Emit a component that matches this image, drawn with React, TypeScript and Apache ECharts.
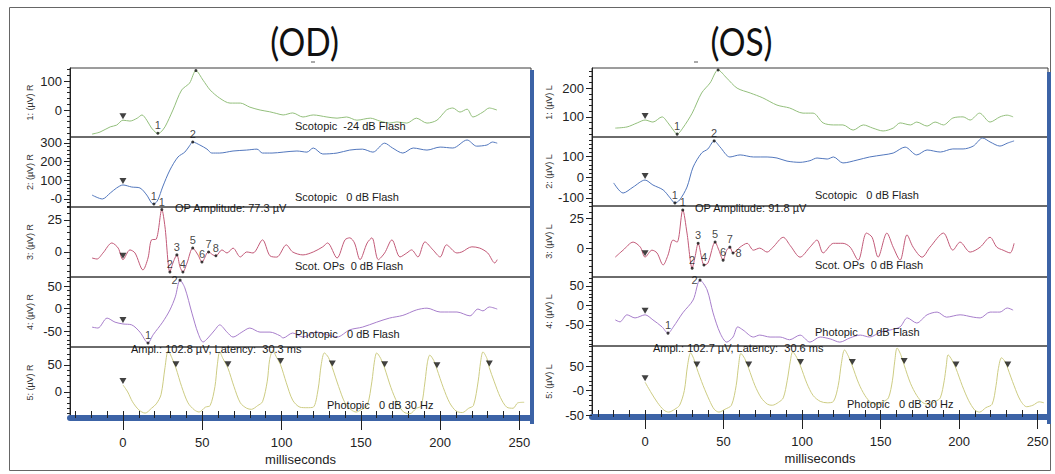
import React, { useEffect, useRef } from 'react';
import * as echarts from 'echarts';

// ---------- data (ms, µV) ----------
const odScotDim: number[][] = [[-19.5,-83],[-14.5,-76],[-8,-58],[-4,-52],[0,-35],[4.4,-38],[9,-28],[12,-17],[15,-35],[18,-62],[21,-79],[22,-80],[23.5,-78],[26.5,-58],[31.5,0],[37,69],[42,93],[46,136],[50.5,103],[55,69],[61,41],[67.5,24],[74,24],[80,10],[86.5,0],[92.5,-6],[97,-12],[101,-17],[107,-10],[113.5,-24],[120,-17],[128.6,-24],[135,-28],[141,-24],[147.5,-35],[156,-28],[162,-38],[168,-45],[172.7,-41],[179,-45],[185,-28],[191.7,-45],[198,-35],[204,0],[208,7],[212.5,-7],[217,3],[220.7,-24],[227,-7],[231,7],[235.8,0]];
const odScotBright: number[][] = [[-19.5,21],[-13,0],[-8,32],[-4,59],[0,75],[5.5,64],[10.7,59],[15,21],[18,-21],[19.5,-27],[22,-5],[25,64],[29.6,155],[34.7,225],[39,251],[42,285],[44,305],[48.5,289],[53,267],[56,246],[61,246],[69.4,257],[78,262],[84.5,267],[88,246],[94,246],[101,251],[109.7,257],[116,251],[120,273],[126,241],[135,246],[143,262],[151,267],[157.6,251],[165,299],[170,273],[176.5,246],[183,273],[191.7,262],[200,278],[208,273],[217,316],[223,283],[229.5,289],[233,305],[236,299]];
const odOPs: number[][] = [[-19.5,-4.7],[-16.4,-5.5],[-12.6,-0.8],[-7,7],[-3,3],[0,-6],[4.4,1.6],[7.6,-0.8],[12.6,-14],[15.8,-4.7],[18,9.4],[21,10],[24.5,33],[26.5,19.5],[29.6,-15.6],[31.5,-8.6],[34,-2.3],[36,-11.7],[37.8,-15.6],[40.4,-8.6],[44,3],[47.3,-2.3],[49.8,-7.8],[53,-0.8],[54,0],[56.7,-2.3],[58.6,-3],[62.4,1.6],[65.6,-0.8],[69.4,3],[74,-3.9],[78,0],[82,-0.8],[88,9.4],[92.7,-3],[97,-4],[103,5.5],[107,0],[113.5,-2.3],[120,0],[126,4],[129,7],[135,-4.7],[140,9.4],[143,11],[146,7],[149.5,-6],[154,7],[157,11],[161,-6],[165,-0.8],[169.6,9.4],[174.7,-3.9],[179,-0.8],[182,1.6],[186,-3.9],[190.4,7.8],[195.5,1.6],[200,-3.9],[204,5.5],[210.6,-0.8],[213.7,0],[220,4],[225,3],[230,-0.8],[234.5,-8.6],[236,-6]];
const odPhot: number[][] = [[-19.5,-41],[-15.8,-43],[-10,-21],[-5,-30],[0,-34],[5.5,-36],[10.7,-52],[15.8,-76],[19,-58],[25,-30],[29.6,-3],[33,26],[36,63],[39,46],[43.5,-10],[47.3,-54],[50.5,-74],[53.6,-65],[58,-47],[61,-36],[65.6,-52],[69.4,-63],[75,-52],[80,-43],[86.4,-52],[92.7,-52],[99,-60],[101,-65],[107,-54],[113.5,-63],[122,-52],[128.6,-58],[135,-63],[143,-47],[151,-41],[160,-30],[168,-21],[176.5,-15],[185,-3],[191.7,1],[200,-7.5],[210.6,-7.5],[218.8,-16],[223.8,-1],[227,-5],[231,3.6],[236,-1]];
const odFlicker: number[][] = [[0,13],[3,0],[6,-18],[10,-33],[14,-39],[18,-30],[21,-22],[24,-5],[26.5,45],[28.5,76],[31,62],[33.4,44],[37,10],[41,-20],[45,-33],[48,-37],[52,-28],[55,-25],[58,10],[59.5,50],[61,74],[63,62],[66.2,44],[70,10],[74,-20],[78,-30],[81,-32],[85,-25],[88,-18],[91,20],[92.5,60],[94.6,77],[96.5,66],[99.4,50],[103,17],[107,-15],[111.6,-28],[116,-29],[120,-28],[123,4],[125,50],[127,72],[129.5,64],[132,45],[136,10],[140,-20],[144,-33],[147,-37],[150,-33],[154,-25],[157,20],[158.5,55],[160,72],[162.5,62],[165,44],[169,8],[173,-20],[177,-37],[181,-40],[185,-30],[188,-26],[190.5,20],[192,55],[193.5,68],[196,58],[198,42],[202,8],[206,-20],[210,-35],[214,-38],[218,-30],[221,-25],[224,20],[225.5,55],[227,74],[229.5,62],[231,45],[234,20],[238,-10],[242,-28],[246,-30],[249,-20],[253,-19]];

const osScotDim: number[][] = [[-19,61],[-11.5,65],[-5,79],[0,89],[5,82],[10.8,100],[14.6,79],[18,54],[20.4,40],[24,61],[30,113],[36,183],[41.4,218],[46.5,263],[52,235],[58.6,200],[67,183],[75,166],[84,141],[92,131],[100.6,113],[107,113],[113.4,79],[120,72],[126,72],[132.5,54],[139,72],[145,61],[151.6,51],[158,61],[162.4,79],[169,72],[173,82],[179.6,68],[184.7,82],[190,72],[196,96],[202.5,100],[207,89],[213,113],[219.7,82],[226,100],[230.5,106],[234.4,100]];
const osScotBright: number[][] = [[-20,-28],[-14,-77],[-7.6,-48],[0,-14],[5,-38],[11.5,-62],[16,-101],[19,-125],[22,-111],[26.7,-48],[30.6,49],[36,117],[40,137],[44,176],[47.8,146],[54,98],[60.5,108],[69,98],[77.7,98],[84,93],[90.4,78],[98.7,72],[105,80],[109.5,93],[116,88],[120,98],[126,69],[135,83],[143,98],[151.6,108],[158,117],[165.6,146],[173,108],[179.6,132],[188,122],[196,137],[202.5,137],[209,151],[215,190],[219.7,171],[226,151],[231,166],[235,176]];
const osOPs: number[][] = [[-19,-7.5],[-14,-1.7],[-7.6,5],[-3,0.8],[0,-7.5],[4.4,-1.7],[7.6,-4],[11.5,-14],[14.6,-5.8],[17.8,6.7],[20.4,5],[24,31.7],[26.7,12.5],[30,-16.7],[31.8,-7.5],[33.8,4],[36.3,-10],[37.5,-14],[40,-12.5],[44.6,5],[47,-1.7],[49.7,-10],[52,-1.7],[54,0.8],[56,-4],[60.5,0.8],[65,4],[69,-1.7],[73,0],[77.7,-3.3],[81.5,0.8],[88,9],[92.5,2],[98.7,-7.5],[105,0.8],[109.5,6.7],[113.4,-4],[120,4],[126,4],[130.6,0.8],[135.7,-10],[141,12.5],[144.6,9],[148.4,-7.5],[154,12.5],[158,0.8],[162.4,-10],[166.8,11],[170.7,0.8],[176.4,-7.5],[181.5,0.8],[190,12.5],[196,-1.7],[200.6,5],[207,-3.3],[213.4,0.8],[219.7,9],[224,0.8],[228,-1.7],[232.5,-4],[235,4]];
const osPhot: number[][] = [[-19,-37],[-16,-42],[-11.5,-24],[-6.4,-32],[0,-24],[5,-37],[10.8,-55],[14.6,-71],[18,-55],[24,-19],[30.6,14],[35,65],[39.5,40],[43.3,-19],[47.8,-71],[52,-94],[56,-81],[59,-55],[62.4,-63],[69,-81],[73,-76],[79.6,-81],[86,-81],[92,-88],[98.7,-76],[105,-94],[111.5,-81],[118,-86],[124,-94],[130.6,-83],[137,-76],[143,-81],[150,-68],[156,-63],[162.4,-55],[167,-32],[173,-45],[179.6,-24],[186,-17],[192,-30],[200.6,-24],[209,-30],[213.4,-32],[219.7,-17],[226,-17],[230.6,-6.5],[234.4,-12]];
const osFlicker: number[][] = [[0,17],[4,-5],[8,-25],[12,-40],[15,-44],[19,-38],[22,-30],[25,0],[27,50],[29,77],[31,65],[33,45],[37,10],[41,-20],[44,-38],[47,-44],[51,-38],[55,-30],[58,10],[59.5,50],[61,76],[63.5,65],[66,45],[70,10],[74,-15],[78,-28],[81,-30],[85,-24],[88,-15],[90.5,20],[92.5,60],[94,79],[96.5,68],[99,50],[103,15],[107,-10],[111.5,-22],[116,-25],[120,-22],[123,10],[125,55],[127,83],[129.5,70],[132,50],[136,15],[140,-10],[144,-25],[148,-28],[152,-22],[155,-15],[157.5,20],[159,60],[160.5,87],[163,72],[165,52],[169,15],[173,-10],[177,-25],[181,-28],[185,-22],[188,-15],[190.5,20],[191.8,50],[193,73],[195.5,62],[198,45],[202,10],[206,-20],[210,-40],[213,-44],[217,-35],[221,-28],[223.5,10],[225,45],[227,67],[229.5,58],[231,45],[235,10],[239,-20],[243,-33],[247,-30],[251,-23],[254,-25]];

// peak markers [ms, µV, label]
const odPeaks: (number | string)[][][] = [
  [[22,-80,'1'],[46,136,'']],
  [[19.5,-27,'1'],[44,305,'2']],
  [[24.5,33,'1'],[29.6,-15.6,'2'],[34,-2.3,'3'],[37.8,-15.6,'4'],[44,3,'5'],[49.8,-7.8,'6'],[54,0,'7'],[58.6,-3,'8']],
  [[15.8,-76,'1'],[36,63,'2']],
  [],
];
const osPeaks: (number | string)[][][] = [
  [[20.4,40,'1'],[46.5,263,'']],
  [[19,-125,'1'],[44,176,'2']],
  [[24,31.7,'1'],[30,-16.7,'2'],[33.8,4,'3'],[37.5,-14,'4'],[44.6,5,'5'],[49.7,-10,'6'],[54,0.8,'7'],[56,-4,'8']],
  [[14.6,-71,'1'],[35,65,'2']],
  [],
];
// stimulus / cursor triangles
const odTriangles: number[][][] = [[[0,-35]],[[0,75]],[[0,-6]],[[0,-34]],[[0,13],[33.4,44],[66.2,44],[99.4,50],[132,45],[165,44],[198,42],[231,45]]];
const osTriangles: number[][][] = [[[0,89]],[[0,-14]],[[0,-7.5]],[[0,-24]],[[0,17],[33,45],[66,45],[99,50],[132,50],[165,52],[198,45],[231,45]]];

const xTickLabels = [0, 50, 100, 150, 200, 250];
const odYTicks = [[0, 100], [0, 100, 200, 300], [0, 25], [-50, 0, 50], [0, 50]];
const osYTicks = [[100, 200], [-100, 0, 100], [0, 25], [-50, 0, 50], [-50, 0, 50]];
const traceNames = ['Scotopic -24 dB', 'Scotopic 0 dB', 'Scot. OPs', 'Photopic 0 dB', 'Photopic 30 Hz'];

const COLORS = ['#93bf7c', '#5277bd', '#c25a78', '#a77ecb', '#cdcc83'];
const NARROW = '"Liberation Sans Narrow", "Liberation Sans", Arial, sans-serif';

// label placement for crowded peak numbers: key = eye-trace-label
const LABEL_POS: Record<string, any> = {
  'R-3-2': 'left',
  'L-2-8': 'right',
  'L-3-2': 'left',
};

const panels = [
  {
    eye: 'R', left: 70, width: 461, tops: [68, 137, 207, 277, 347], heights: [69, 70, 70, 70, 71],
    xMin: -33.4, xMax: 257.3,
    ranges: [[-93, 145], [-43, 332], [-19.5, 35], [-85, 70], [-48, 83]],
    minorSteps: [20, 20, 5, 10, 10],
    ticks: odYTicks, zeroDash: [false, true, false, false, false],
    traces: [odScotDim, odScotBright, odOPs, odPhot, odFlicker],
    peaks: odPeaks, tris: odTriangles,
  },
  {
    eye: 'L', left: 592, width: 456, tops: [68, 137, 206, 277, 346], heights: [69, 69, 71, 69, 71],
    xMin: -33.8, xMax: 256.6,
    ranges: [[30, 270], [-140, 195], [-24, 35], [-104, 73], [-54, 91]],
    minorSteps: [20, 20, 5, 10, 10],
    ticks: osYTicks, zeroDash: [false, false, false, false, true],
    traces: [osScotDim, osScotBright, osOPs, osPhot, osFlicker],
    peaks: osPeaks, tris: osTriangles,
  },
];

function stepsIn(min: number, max: number, step: number): number[] {
  const out: number[] = [];
  for (let v = Math.ceil(min / step) * step; v <= max + 1e-9; v += step) out.push(+v.toFixed(3));
  return out;
}

function buildOption() {
  const grid: any[] = [];
  const xAxis: any[] = [];
  const yAxis: any[] = [];
  const series: any[] = [];
  const extraX: any[] = [];
  const extraY: any[] = [];

  panels.forEach((p, pi) => {
    for (let i = 0; i < 5; i++) {
      const g = pi * 5 + i;
      const bottom = i === 4;
      grid.push({ left: p.left, top: p.tops[i], width: p.width, height: p.heights[i], show: true, borderColor: '#3a3a3a', borderWidth: 1 });
      xAxis.push({
        type: 'value', gridIndex: g, min: p.xMin, max: p.xMax, position: 'bottom', show: bottom,
        axisLine: { show: true, onZero: false, lineStyle: { color: '#3c63a6', width: 6 } },
        axisTick: { show: true, length: 12, lineStyle: { color: '#222' }, customValues: xTickLabels },
        axisLabel: { customValues: xTickLabels, margin: 18, fontSize: 13, color: '#222', fontFamily: NARROW },
        splitLine: { show: false },
        name: 'milliseconds', nameLocation: 'middle', nameGap: 35,
        nameTextStyle: { fontSize: 13, color: '#222', fontFamily: NARROW },
      });
      if (bottom) {
        extraX.push({
          type: 'value', gridIndex: g, min: p.xMin, max: p.xMax, position: 'bottom',
          axisLine: { show: false, onZero: false },
          axisTick: { show: true, inside: true, length: 7, lineStyle: { color: '#222' }, customValues: stepsIn(p.xMin, p.xMax, 10) },
          axisLabel: { show: false }, splitLine: { show: false },
        });
      }
      const [mn, mx] = p.ranges[i];
      const zd = p.zeroDash[i];
      yAxis.push({
        type: 'value', gridIndex: g, min: mn, max: mx, position: 'left',
        axisLine: { show: true, onZero: false, lineStyle: { color: '#222' } },
        axisTick: { show: true, length: 6, lineStyle: { color: '#222' }, customValues: p.ticks[i] },
        axisLabel: {
          customValues: p.ticks[i], margin: 8, fontSize: 13, color: '#222', fontFamily: NARROW,
          formatter: (v: number) => (v === 0 && zd ? '-0' : String(v)),
        },
        splitLine: { show: false },
        name: `${i + 1}: (µV) ${p.eye}`, nameLocation: 'middle', nameRotate: 90, nameGap: pi === 0 ? 36 : 39,
        nameTextStyle: { fontSize: 9, color: '#333', fontFamily: NARROW },
      });
      extraY.push({
        type: 'value', gridIndex: g, min: mn, max: mx, position: 'left',
        axisLine: { show: false, onZero: false },
        axisTick: { show: true, length: 3, lineStyle: { color: '#222' }, customValues: stepsIn(mn, mx, p.minorSteps[i]) },
        axisLabel: { show: false }, splitLine: { show: false },
      });

      series.push({
        name: `${p.eye} ${traceNames[i]}`, type: 'line', xAxisIndex: g, yAxisIndex: g,
        data: p.traces[i], showSymbol: false, symbol: 'none', smooth: 0.3, silent: true,
        lineStyle: { width: 1, color: COLORS[i] }, z: 2,
      });
      series.push({
        type: 'scatter', xAxisIndex: g, yAxisIndex: g, data: p.tris[i], silent: true,
        symbol: 'triangle', symbolRotate: 180, symbolSize: [7, 6], symbolOffset: [0, -4],
        itemStyle: { color: '#111' }, z: 4,
      });
      if (p.peaks[i].length) {
        series.push({
          type: 'scatter', xAxisIndex: g, yAxisIndex: g, silent: true,
          data: p.peaks[i].map((d) => {
            const pos = LABEL_POS[`${p.eye}-${i}-${d[2]}`];
            return pos ? { value: d, label: { position: pos } } : { value: d };
          }),
          symbol: 'circle', symbolSize: 3, itemStyle: { color: '#111' }, z: 5,
          label: {
            show: true, position: 'top', distance: 1, fontSize: 11, color: '#111', fontFamily: NARROW,
            formatter: (q: any) => q.value[2],
          },
        });
      }
    }
  });

  const allX = xAxis.concat(extraX);
  const allY = yAxis.concat(extraY);

  const txt = (text: string, x: number, y: number, size = 11, align = 'left') => ({
    type: 'text', x, y, silent: true, z: 10,
    style: { text, fill: '#1a1a1a', fontSize: size, fontFamily: NARROW, textAlign: align, textVerticalAlign: 'middle' },
  });

  const graphic: any[] = [
    { type: 'rect', shape: { x: 9.5, y: 7.5, width: 1041, height: 463 }, style: { fill: 'none', stroke: '#666', lineWidth: 1 }, silent: true, z: 0 },
    { type: 'rect', shape: { x: 530, y: 70, width: 4, height: 354 }, style: { fill: '#3c63a6' }, silent: true, z: 1 },
    { type: 'rect', shape: { x: 1047, y: 72, width: 4, height: 352 }, style: { fill: '#3c63a6' }, silent: true, z: 1 },
    { type: 'text', x: 272, y: 42, silent: true, scaleX: 0.88, originX: 272, originY: 42,
      style: { text: '(OD)', fill: '#111', fontSize: 38, fontFamily: 'Lato, "Open Sans", sans-serif', textAlign: 'center', textVerticalAlign: 'middle' } },
    { type: 'text', x: 662, y: 42, silent: true, scaleX: 0.88, originX: 662, originY: 42,
      style: { text: '(OS)', fill: '#111', fontSize: 38, fontFamily: 'Lato, "Open Sans", sans-serif', textAlign: 'center', textVerticalAlign: 'middle' } },
    { type: 'line', shape: { x1: 311, y1: 62, x2: 315, y2: 62 }, style: { stroke: '#555', lineWidth: 1 }, silent: true },
    { type: 'line', shape: { x1: 694, y1: 62, x2: 698, y2: 62 }, style: { stroke: '#555', lineWidth: 1 }, silent: true },
    txt('Scotopic  -24 dB Flash', 295, 126),
    txt('Scotopic   0 dB Flash', 295, 197),
    txt('OP Amplitude: 77.3 µV', 175, 208),
    txt('Scot. OPs  0 dB Flash', 295, 266),
    txt('Photopic   0 dB Flash', 295, 334),
    txt('Ampl.: 102.8 µV, Latency:  30.3 ms', 131, 349),
    txt('Photopic   0 dB 30 Hz', 327, 405),
    txt('Scotopic   0 dB Flash', 815, 195),
    txt('OP Amplitude: 91.8 µV', 695, 208),
    txt('Scot. OPs  0 dB Flash', 815, 265),
    txt('Photopic   0 dB Flash', 815, 332),
    txt('Ampl.: 102.7 µV, Latency:  30.6 ms', 653, 348),
    txt('Photopic   0 dB 30 Hz', 847, 404),
  ];

  return {
    animation: false,
    backgroundColor: '#ffffff',
    grid, xAxis: allX, yAxis: allY, series, graphic,
  };
}

export default function App() {
  const ref = useRef<HTMLDivElement>(null);
  useEffect(() => {
    if (!ref.current) return;
    const chart = echarts.init(ref.current, undefined, { renderer: 'svg' });
    chart.setOption(buildOption() as any);
    return () => chart.dispose();
  }, []);
  return <div ref={ref} style={{ position: 'fixed', left: 0, top: 0, width: 1055, height: 474, background: '#fff' }} />;
}
